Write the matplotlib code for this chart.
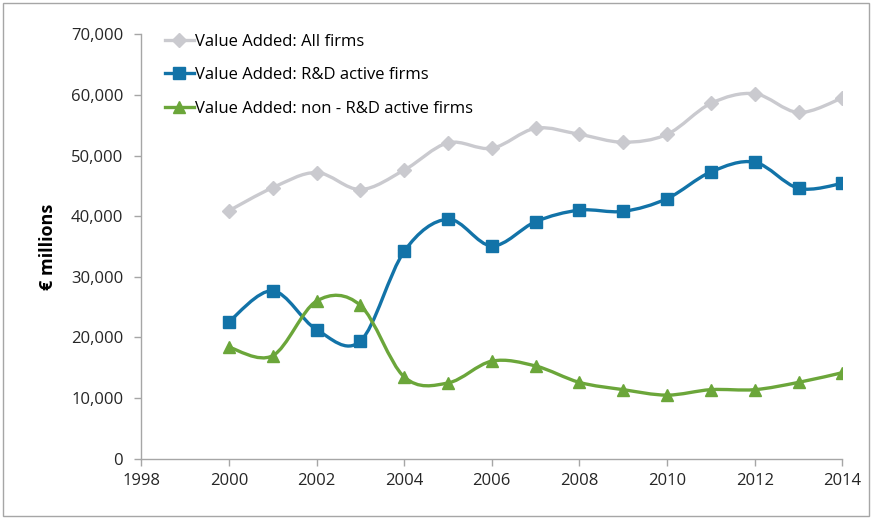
import numpy as np
import matplotlib.pyplot as plt
from matplotlib.path import Path
from matplotlib.patches import PathPatch, Rectangle
from matplotlib.lines import Line2D
from matplotlib.ticker import FuncFormatter

plt.rcParams['font.family'] = ['Open Sans', 'DejaVu Sans']

#%% data
years = [2000, 2001, 2002, 2003, 2004, 2005, 2006, 2007,
         2008, 2009, 2010, 2011, 2012, 2013, 2014]
all_firms = [40900, 44700, 47200, 44400, 47600, 52100, 51200, 54500,
             53500, 52200, 53500, 58600, 60200, 57100, 59500]
rd_firms = [22600, 27700, 21300, 19400, 34200, 39500, 35100, 39100,
            41000, 40800, 42900, 47300, 48900, 44600, 45400]
non_rd_firms = [18400, 17000, 26000, 25300, 13500, 12500, 16100, 15300,
                12600, 11400, 10500, 11400, 11400, 12600, 14200]

labels = ['Value Added: All firms',
          'Value Added: R&D active firms',
          'Value Added: non - R&D active firms']
colors = ['#cacacf', '#1273a8', '#6ba63a']
markers = ['D', 's', '^']
msizes = [7, 9, 9]


#%% smooth curve like Excel (bezier through the points)
def smooth_path(x, y):
    x = np.asarray(x, float)
    y = np.asarray(y, float)
    n = len(x)
    verts = [(x[0], y[0])]
    codes = [Path.MOVETO]
    for i in range(n - 1):
        i0 = max(i - 1, 0)
        i3 = min(i + 2, n - 1)
        c1 = (x[i] + (x[i + 1] - x[i0]) / 6, y[i] + (y[i + 1] - y[i0]) / 6)
        c2 = (x[i + 1] - (x[i3] - x[i]) / 6, y[i + 1] - (y[i3] - y[i]) / 6)
        verts += [c1, c2, (x[i + 1], y[i + 1])]
        codes += [Path.CURVE4] * 3
    return Path(verts, codes)


fig = plt.figure(figsize=(8.72, 5.19), dpi=100)
ax = fig.add_axes([0.162, 0.116, 0.804, 0.818])

handles = []
for vals, lab, c, m, ms in zip([all_firms, rd_firms, non_rd_firms],
                               labels, colors, markers, msizes):
    ax.add_patch(PathPatch(smooth_path(years, vals), fc='none', ec=c, lw=2.4,
                           zorder=2))
    ax.plot(years, vals, ls='none', marker=m, ms=ms, color=c, zorder=3)
    handles.append(Line2D([], [], color=c, lw=2.4, marker=m, ms=ms,
                          label=lab))

ax.set_xlim(1998, 2014)
ax.set_ylim(0, 70000)
ax.set_xticks(range(1998, 2015, 2))
ax.set_yticks(range(0, 70001, 10000))
ax.yaxis.set_major_formatter(FuncFormatter(lambda v, p: '{:,.0f}'.format(v)))

for s in ['top', 'right']:
    ax.spines[s].set_visible(False)
for s in ['left', 'bottom']:
    ax.spines[s].set_color('#a6a6a6')
    ax.spines[s].set_linewidth(1)
ax.tick_params(colors='#a6a6a6', labelcolor='#262626', labelsize=12,
               length=5, width=1)
ax.tick_params(axis='y', pad=8)
ax.tick_params(axis='x', pad=5)

ax.set_ylabel('€ millions', fontsize=13, fontweight='bold', color='#000000',
              labelpad=10)

ax.legend(handles=handles, loc='upper left', bbox_to_anchor=(0.012, 1.037),
          frameon=False, fontsize=12, handlelength=1.75, handletextpad=0.05,
          labelspacing=1.05, labelcolor='#000000')

fig.patches.append(Rectangle((0.003, 0.005), 0.993, 0.99, transform=fig.transFigure,
                             fill=False, ec='#a6a6a6', lw=1))

fig.savefig('out.png', dpi=100)
